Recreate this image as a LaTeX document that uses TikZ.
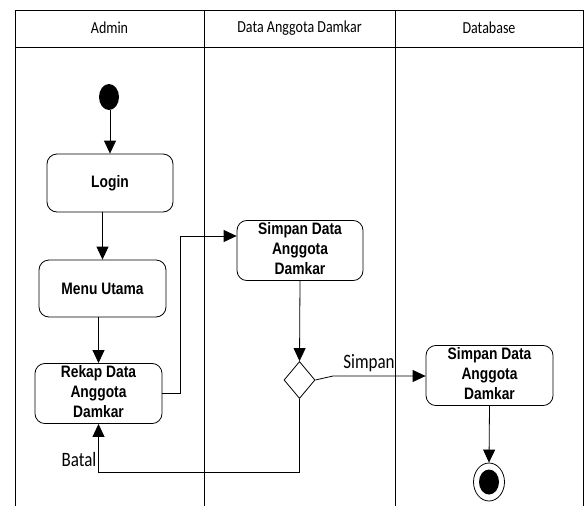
\documentclass[tikz,border=0pt]{standalone}
\usepackage{fontspec}
\usepackage{graphicx}
\setmainfont{Liberation Sans}
\newfontfamily\carl{Carlito}
\usetikzlibrary{shapes.geometric,arrows.meta}
\newcommand\vstr[1]{\scalebox{1}[1.2]{#1}}
\newcommand\mlines[1]{\vstr{\begin{tabular}{@{}c@{}}#1\end{tabular}}}
\tikzset{
  lane/.style={line width=0.8pt, draw=black},
  act/.style={draw, line width=0.8pt, rounded corners=10pt, align=center, inner sep=0pt,
    font=\fontsize{13.8pt}{16.7pt}\selectfont\bfseries},
  arr/.style={line width=0.8pt, -{Triangle[length=13pt,width=12pt]}},
  hdr/.style={font=\carl\fontsize{14pt}{16pt}\selectfont},
  lbl/.style={font=\carl\fontsize{17pt}{19pt}\selectfont, inner sep=0pt},
}
\begin{document}
\begin{tikzpicture}[x=1pt,y=-1pt]
\useasboundingbox (0,0) rectangle (585,506);
% frame
\draw[lane] (15,506) -- (15,10) -- (583,10) -- (583,506);
\draw[lane] (15,47.5) -- (583,47.5);
\draw[lane] (204,10) -- (204,506);
\draw[lane] (395,10) -- (395,506);
\node[hdr] (h1) at (109.5,28) {\vstr{Admin}};
\node[hdr] (h2) at (299.5,28) {\vstr{Data Anggota Damkar}};
\node[hdr] (h3) at (489,28) {\vstr{Database}};
% start
\node[ellipse, fill=black, minimum width=20pt, minimum height=26pt, inner sep=0pt] (start) at (109,97) {};
% activities
\node[act, minimum width=126pt, minimum height=58pt] (login) at (110,183) {\vstr{Login}};
\node[act, minimum width=127pt, minimum height=57pt] (menu) at (102.5,288.5) {\vstr{Menu Utama}};
\node[act, minimum width=127pt, minimum height=59pt] (rekap) at (98.5,393.5) {\mlines{Rekap Data\\Anggota\\Damkar}};
\node[act, minimum width=126pt, minimum height=57pt] (s1) at (300,250.5) {\mlines{Simpan Data\\Anggota\\Damkar}};
\node[act, minimum width=127pt, minimum height=57pt] (s2) at (489.5,375.5) {\mlines{Simpan Data\\Anggota\\Damkar}};
% decision
\node[diamond, draw, line width=0.8pt, minimum width=31pt, minimum height=37pt, inner sep=0pt] (dec) at (299.5,380) {};
% end
\node[ellipse, draw, line width=0.8pt, minimum width=31pt, minimum height=38pt, inner sep=0pt] (end) at (489,482) {};
\node[ellipse, fill=black, minimum width=20pt, minimum height=25pt, inner sep=0pt] (endin) at (489,482) {};
% flows
\draw[arr] (start.south -| login.north) -- (login.north);
\draw[arr] (menu.north |- login.south) -- (menu.north);
\draw[arr] (rekap.north |- menu.south) -- (rekap.north);
\coordinate (r1) at (180,236);
\draw[arr] (rekap.east) -| (r1) -- (s1.west |- r1);
\draw[arr] (s1.south) -- (dec.north);
\coordinate (k1) at (333,376);
\draw[arr] (dec.east) -- (k1) -- (s2.west |- k1);
\coordinate (b1) at (299.5,472);
\draw[arr] (dec.south) -- (b1) -| (rekap.south);
\draw[arr] (s2.south) -- (end.north);
% labels
\node[lbl] (lsimpan) at (369,363) {\vstr{Simpan}};
\node[lbl] (lbatal) at (79,459) {\vstr{Batal}};
\end{tikzpicture}
\end{document}
